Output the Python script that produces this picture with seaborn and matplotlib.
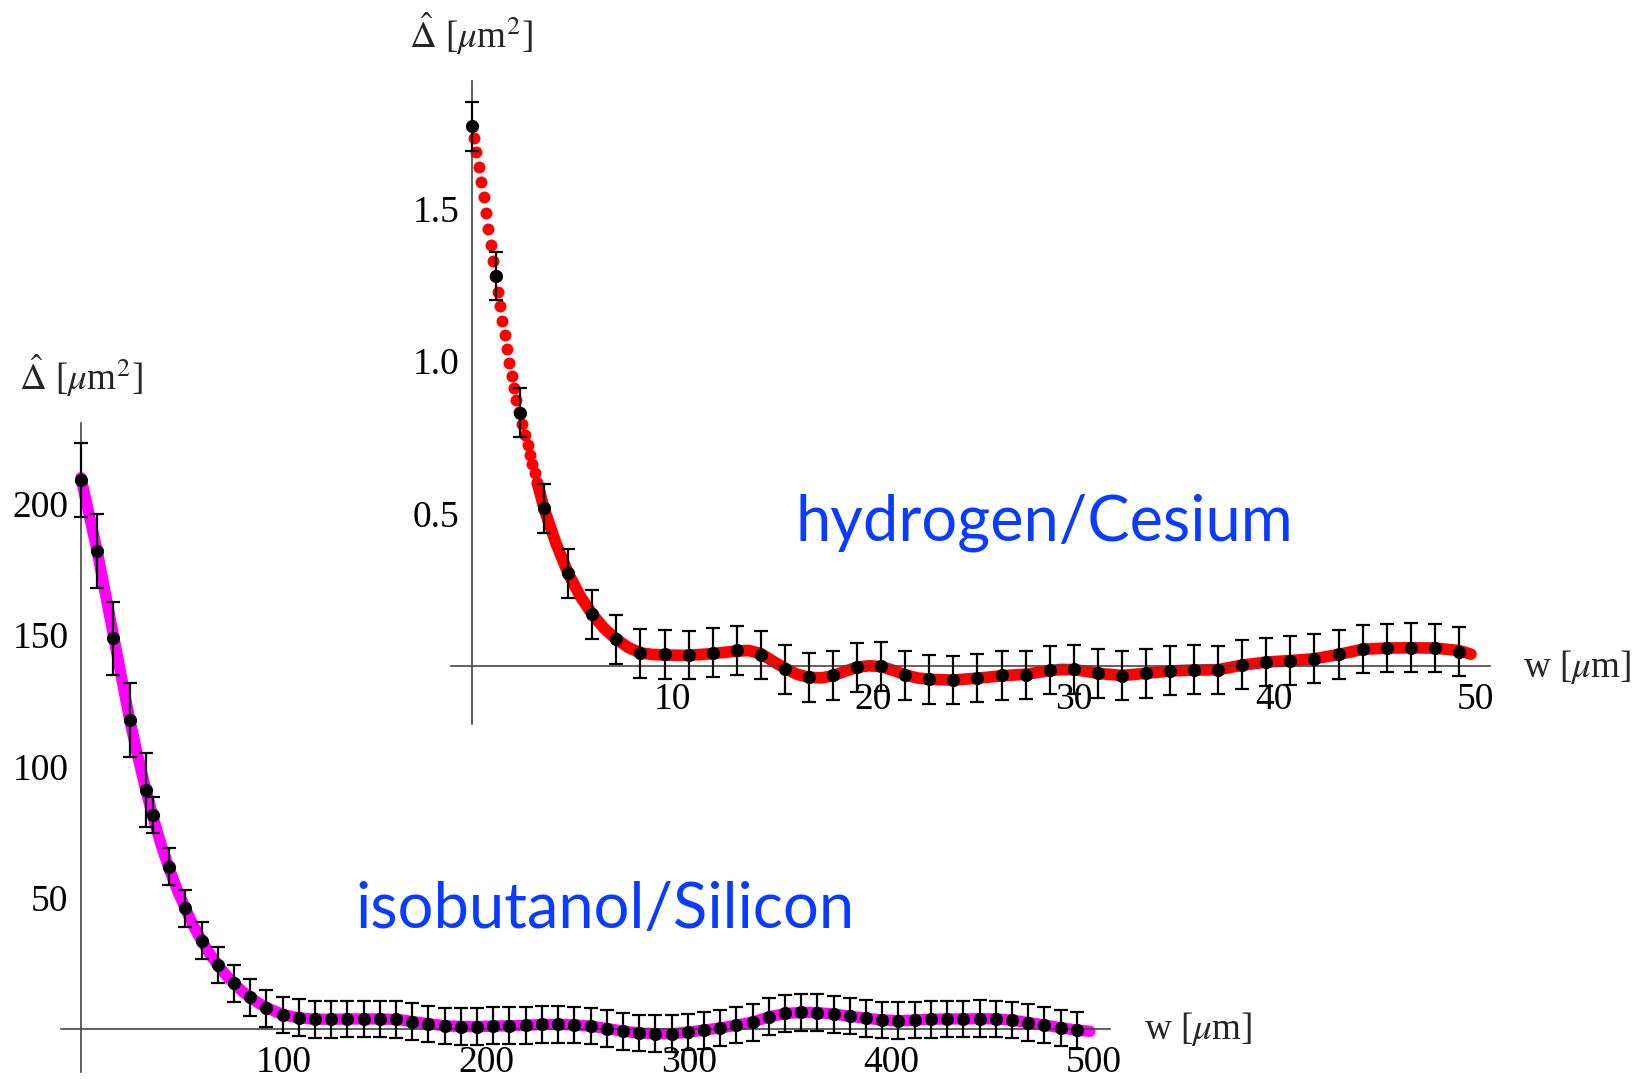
import matplotlib
matplotlib.use("Agg")
import matplotlib.pyplot as plt
from matplotlib.ticker import FixedLocator, MultipleLocator, NullFormatter
import pandas as pd
import seaborn as sns

# ---------------- hydrogen / Cesium ----------------
# measured points (w in um, Delta-hat in um^2), constant uncertainty
h_w = [0.0, 1.2, 2.4, 3.6, 4.8, 6.0, 7.2, 8.4, 9.6, 10.8, 12.0, 13.2, 14.4, 15.6,
       16.8, 18.0, 19.2, 20.4, 21.6, 22.8, 24.0, 25.2, 26.4, 27.6, 28.8, 30.0,
       31.2, 32.4, 33.6, 34.8, 36.0, 37.2, 38.4, 39.6, 40.8, 42.0, 43.2, 44.4,
       45.6, 46.8, 48.0, 49.2]
h_delta = [1.772, 1.280, 0.831, 0.517, 0.303, 0.169, 0.087, 0.041, 0.037, 0.035,
           0.043, 0.051, 0.035, -0.012, -0.038, -0.032, -0.005, -0.002, -0.031,
           -0.045, -0.047, -0.040, -0.032, -0.030, -0.014, -0.012, -0.025, -0.033,
           -0.025, -0.016, -0.013, -0.014, 0.003, 0.012, 0.017, 0.023, 0.038,
           0.055, 0.058, 0.059, 0.058, 0.046]
h_err = 0.08

# model samples on the steep initial drop (drawn as separate dots)
h_fine_w = [0.08, 0.21, 0.33, 0.45, 0.58, 0.70, 0.81, 0.93, 1.05, 1.17, 1.28, 1.41,
            1.52, 1.63, 1.74, 1.87, 1.98, 2.09, 2.21, 2.36, 2.51, 2.66, 2.79, 2.91,
            3.01, 3.13, 3.26]
h_fine_delta = [1.732, 1.688, 1.639, 1.590, 1.538, 1.486, 1.433, 1.382, 1.330,
                1.280, 1.228, 1.180, 1.133, 1.086, 1.039, 0.995, 0.951, 0.911,
                0.873, 0.833, 0.794, 0.758, 0.725, 0.692, 0.661, 0.632, 0.601]

# model curve over the rest of the range (dense enough to merge into a band)
h_curve_w = [3.26, 3.6, 4.2, 4.8, 5.4, 6.0, 6.6, 7.2, 7.8, 8.4, 9.0, 9.6, 10.8, 12.0,
             13.2, 13.8, 14.4, 15.0, 15.6, 16.2, 16.8, 17.4, 18.0, 18.6, 19.2, 19.8,
             20.4, 21.0, 21.6, 22.2, 22.8, 24.0, 25.2, 26.4, 27.6, 28.8, 29.4, 30.0,
             30.6, 31.2, 32.4, 33.6, 34.8, 36.0, 37.2, 38.4, 39.6, 40.8, 42.0, 43.2,
             44.4, 45.6, 46.8, 48.0, 49.2, 49.8]
h_curve_delta = [0.601, 0.515, 0.400, 0.303, 0.228, 0.169, 0.122, 0.087, 0.060,
                 0.042, 0.037, 0.035, 0.034, 0.040, 0.048, 0.050, 0.040, 0.015,
                 -0.008, -0.028, -0.038, -0.040, -0.033, -0.018, -0.005, 0.000,
                 -0.003, -0.015, -0.030, -0.040, -0.045, -0.047, -0.041, -0.033,
                 -0.028, -0.016, -0.012, -0.013, -0.018, -0.025, -0.032, -0.025,
                 -0.017, -0.014, -0.013, 0.002, 0.012, 0.017, 0.023, 0.037, 0.054,
                 0.058, 0.059, 0.058, 0.050, 0.038]

# ---------------- isobutanol / Silicon ----------------
# first run (larger uncertainty)
s_w_a = [0.0, 8.0, 16.0, 24.0, 32.0]
s_delta_a = [209.1, 182.0, 148.8, 117.6, 91.0]
s_err_a = 14.0
# second run
s_w_b = [35.5, 43.5, 51.5, 59.5, 67.5, 75.5, 83.5, 91.5, 99.5, 107.5, 115.5, 123.5,
         131.5, 139.5, 147.5, 155.5, 163.5, 171.5, 179.5, 187.5, 195.5, 203.5,
         211.5, 219.5, 227.5, 235.5, 243.5, 251.5, 259.5, 267.5, 275.5, 283.5,
         291.5, 299.5, 307.5, 315.5, 323.5, 331.5, 339.5, 347.5, 355.5, 363.5,
         371.5, 379.5, 387.5, 395.5, 403.5, 411.5, 419.5, 427.5, 435.5, 443.5,
         451.5, 459.5, 467.5, 475.5, 483.5, 491.5]
s_delta_b = [81.4, 61.7, 45.9, 33.5, 24.3, 17.3, 12.0, 7.8, 5.2, 4.2, 3.6, 3.6,
             3.7, 3.7, 3.7, 3.5, 2.7, 1.8, 1.0, 0.8, 0.8, 1.1, 1.1, 1.3, 1.6, 1.6,
             1.4, 1.0, 0.0, -1.0, -1.7, -1.9, -1.9, -1.3, -0.6, 0.3, 1.4, 2.4, 4.6,
             5.8, 6.2, 6.1, 5.5, 4.8, 3.9, 3.3, 3.0, 3.3, 3.6, 3.7, 3.7, 3.8, 3.7,
             3.3, 2.3, 1.4, 0.3, -0.6]
s_err_b = 7.0

# model curve
s_curve_w = [0, 4, 8, 12, 16, 20, 24, 28, 32, 36, 40, 44, 48, 52, 56, 60, 64, 68,
             72, 76, 80, 84, 88, 92, 96, 100, 104, 108, 112, 116, 124, 132, 140,
             148, 156, 164, 172, 180, 188, 196, 204, 212, 220, 228, 236, 244, 252,
             260, 268, 276, 284, 292, 300, 308, 316, 324, 332, 340, 348, 356, 364,
             372, 380, 388, 396, 404, 412, 420, 428, 436, 444, 452, 460, 468, 476,
             484, 492, 498]
s_curve_delta = [210.0, 196.0, 182.0, 166.0, 150.0, 134.0, 118.0, 104.0, 91.0,
                 79.5, 69.0, 60.0, 52.0, 45.0, 38.5, 33.0, 28.0, 23.8, 20.0, 16.8,
                 14.0, 11.6, 9.6, 7.9, 6.5, 5.4, 4.6, 4.1, 3.8, 3.6, 3.6, 3.7, 3.7,
                 3.7, 3.5, 2.7, 1.8, 1.1, 0.8, 0.8, 1.0, 1.1, 1.3, 1.6, 1.6, 1.4,
                 0.9, 0.0, -1.0, -1.7, -1.9, -1.9, -1.3, -0.5, 0.3, 1.4, 2.6, 4.6,
                 5.8, 6.2, 6.1, 5.5, 4.7, 3.9, 3.3, 3.0, 3.3, 3.6, 3.7, 3.7, 3.8,
                 3.7, 3.2, 2.3, 1.3, 0.3, -0.6, -1.0]

# ---------------- styling ----------------
sns.set_style("white")
plt.rcParams["font.family"] = ["Liberation Serif", "DejaVu Serif"]
plt.rcParams["mathtext.fontset"] = "stix"

W, H = 1646, 1079
fig = plt.figure(figsize=(W / 100, H / 100), dpi=100)

AXIS_COLOR = "#454545"
TICK_FS = 27
LABEL_FS = 26.7


def px_axes(x0, x1, y_top, y_bottom):
    """Axes rectangle given in pixel coordinates (origin top-left)."""
    return fig.add_axes([x0 / W, 1 - y_bottom / H, (x1 - x0) / W, (y_bottom - y_top) / H])


def style_axes(ax, xmaj, xmin_step, ymaj, ymin_step, ylabels):
    for side in ("top", "right"):
        ax.spines[side].set_visible(False)
    for side in ("left", "bottom"):
        ax.spines[side].set_position(("data", 0))
        ax.spines[side].set_color(AXIS_COLOR)
        ax.spines[side].set_linewidth(1.2)
    ax.xaxis.set_major_locator(FixedLocator(xmaj))
    ax.xaxis.set_minor_locator(MultipleLocator(xmin_step))
    ax.yaxis.set_major_locator(FixedLocator(ymaj))
    ax.yaxis.set_minor_locator(MultipleLocator(ymin_step))
    ax.set_xticklabels([str(v) for v in xmaj])
    ax.set_yticklabels(ylabels)
    ax.xaxis.set_minor_formatter(NullFormatter())
    ax.yaxis.set_minor_formatter(NullFormatter())
    ax.tick_params(axis="both", which="major", direction="in", length=8.5, width=1.0,
                   color=AXIS_COLOR, labelsize=TICK_FS, labelcolor="black")
    ax.tick_params(axis="both", which="minor", direction="in", length=5.5, width=1.0,
                   color=AXIS_COLOR)
    ax.tick_params(axis="x", which="major", pad=12)
    ax.tick_params(axis="y", which="major", pad=9)
    ax.set_xlabel("")
    ax.set_ylabel("")
    ax.grid(False)
    ax.patch.set_alpha(0)


def draw_points(ax, w, d, err):
    ax.errorbar(w, d, yerr=err, fmt="none", ecolor="black", elinewidth=1.6,
                capsize=4.8, capthick=1.6, zorder=4)
    sns.scatterplot(x=w, y=d, ax=ax, color="black", s=90, linewidth=0,
                    zorder=5, legend=False)


# ---------------- lower panel: isobutanol / Silicon ----------------
ax_s = px_axes(60.7, 1110.2, 422.6, 1071.7)
ax_s.set_xlim(-10, 508)
ax_s.set_ylim(-16.4, 231)
sns.lineplot(x=s_curve_w, y=s_curve_delta, ax=ax_s, color="#ff00ff", linewidth=8.2,
             solid_capstyle="round", solid_joinstyle="round", zorder=2)
draw_points(ax_s, s_w_a, s_delta_a, s_err_a)
draw_points(ax_s, s_w_b, s_delta_b, s_err_b)
style_axes(ax_s, [100, 200, 300, 400, 500], 20, [50, 100, 150, 200], 10,
           ["50", "100", "150", "200"])

# ---------------- upper panel: hydrogen / Cesium ----------------
ax_h = px_axes(450.9, 1490.0, 81.1, 723.6)
ax_h.set_xlim(-1.05, 50.75)
ax_h.set_ylim(-0.19, 1.92)
sns.scatterplot(x=h_fine_w, y=h_fine_delta, ax=ax_h, color="#ff0000", s=74,
                linewidth=0, zorder=2, legend=False)
sns.lineplot(x=h_curve_w, y=h_curve_delta, ax=ax_h, color="#ff0000", linewidth=8.4,
             solid_capstyle="round", solid_joinstyle="round", zorder=2)
draw_points(ax_h, h_w, h_delta, h_err)
style_axes(ax_h, [10, 20, 30, 40, 50], 2, [0.5, 1.0, 1.5], 0.1,
           ["0.5", "1.0", "1.5"])

# ---------------- axis titles and panel names ----------------
def ftext(x, y, s, **kw):
    fig.text(x / W, 1 - y / H, s, **kw)


ylab = r"$\hat{\Delta}$ [$\mu$m$^2$]"
ftext(409, 48, ylab, fontsize=LABEL_FS, ha="left", va="baseline")
ftext(19, 390, ylab, fontsize=LABEL_FS, ha="left", va="baseline")
ftext(1523, 677, r"w [$\mu$m]", fontsize=LABEL_FS, ha="left", va="baseline")
ftext(1144, 1039, r"w [$\mu$m]", fontsize=LABEL_FS, ha="left", va="baseline")

BLUE = "#0a3cff"
ftext(796, 540, "hydrogen/Cesium", fontsize=45.5, family="Lato", color=BLUE,
      ha="left", va="baseline")
ftext(355, 928, "isobutanol/Silicon", fontsize=45.5, family="Lato", color=BLUE,
      ha="left", va="baseline")

fig.savefig("out.png", dpi=100)
